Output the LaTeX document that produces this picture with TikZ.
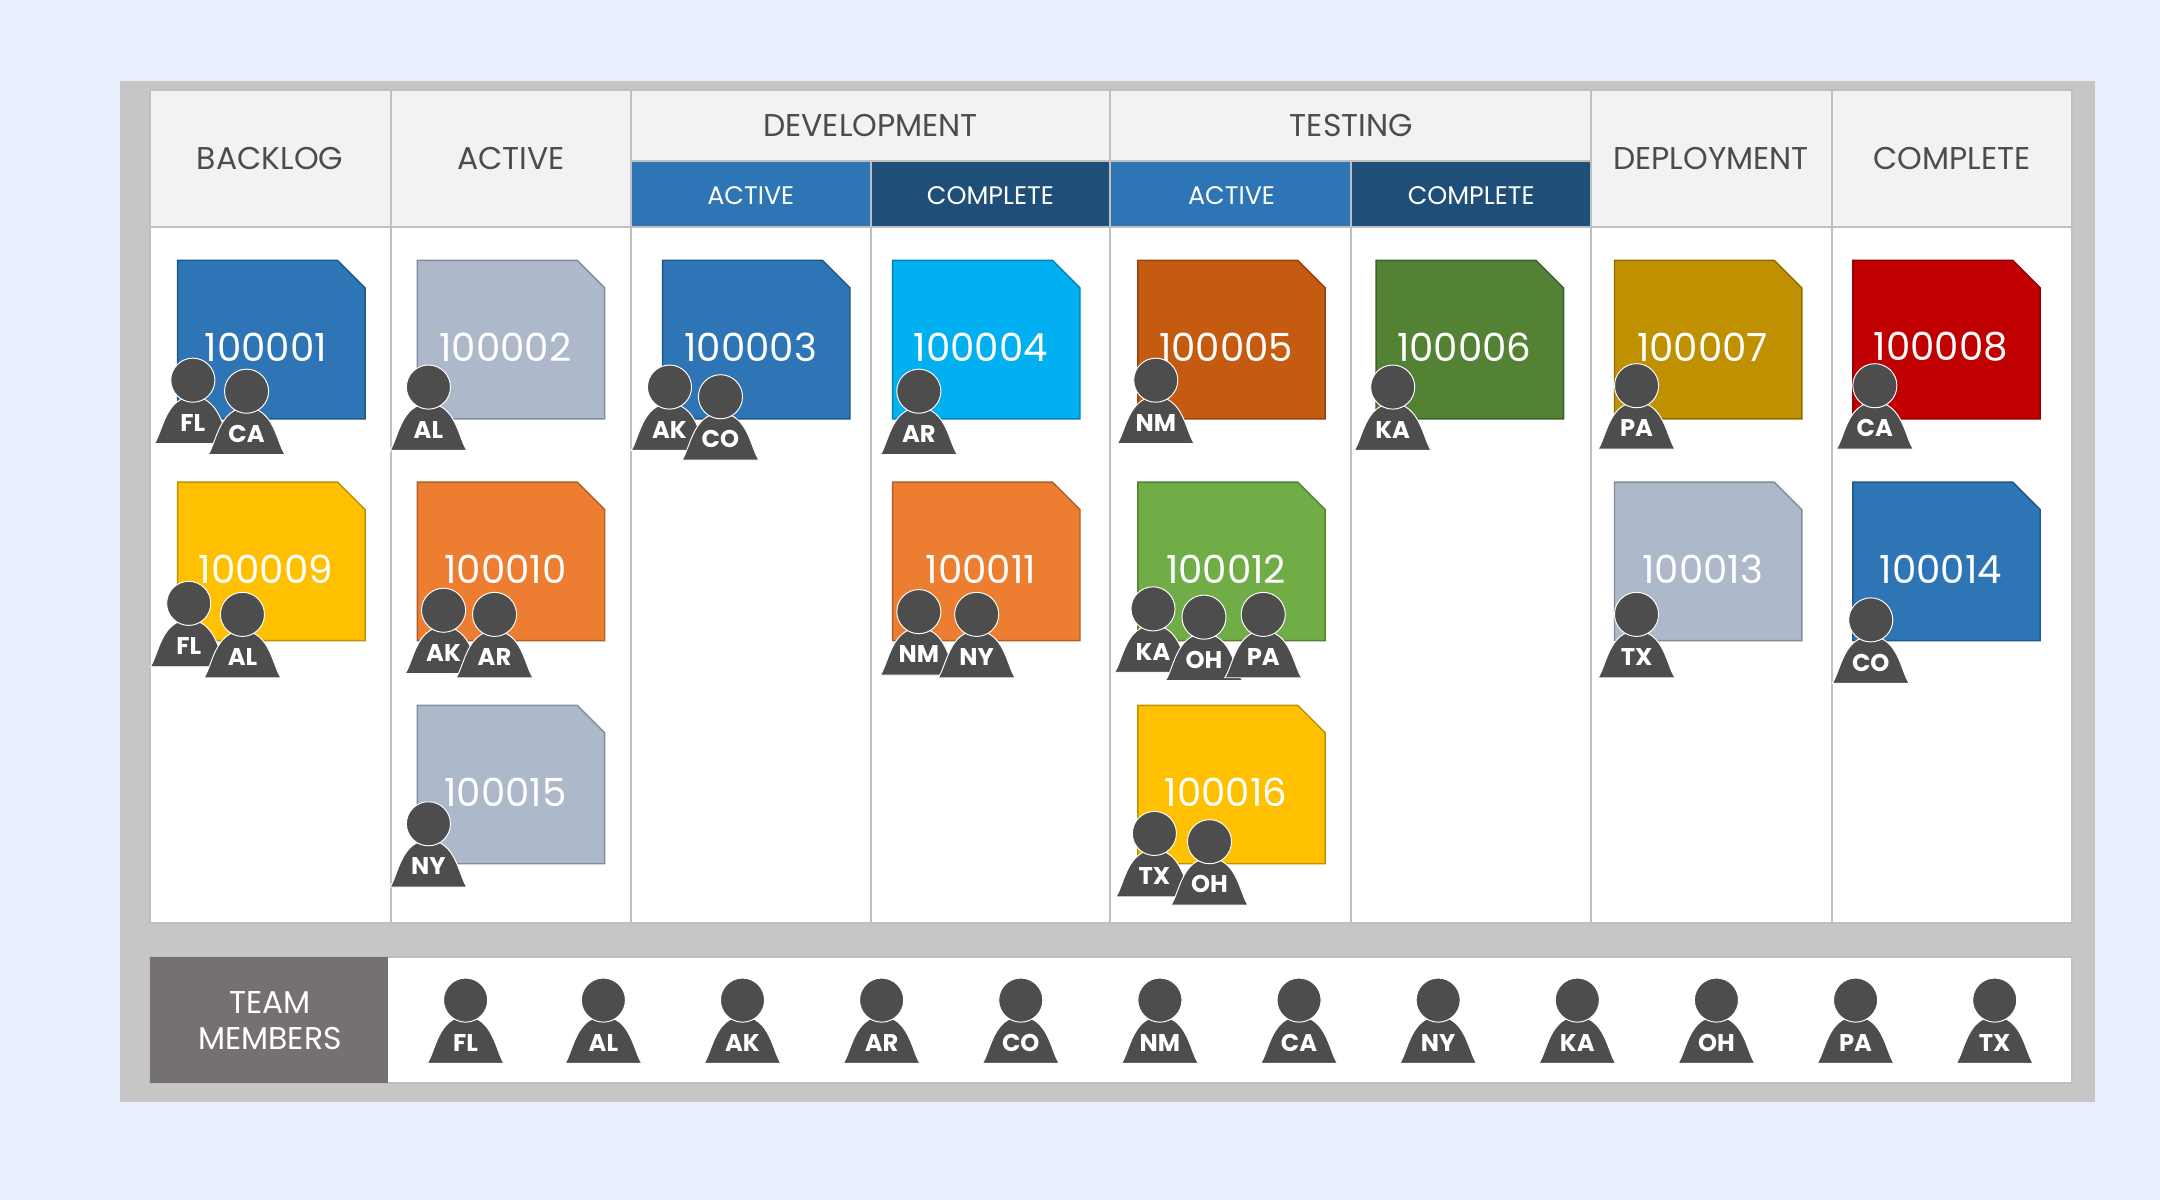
\documentclass[tikz,border=0pt]{standalone}
\usepackage{fontspec}
\setmainfont{Poppins}
\usetikzlibrary{positioning, calc}
\definecolor{pagebg}{HTML}{E8EFFC}
\definecolor{framegray}{HTML}{C6C6C6}
\definecolor{headgray}{HTML}{F2F2F2}
\definecolor{linegray}{HTML}{BFBFBF}
\definecolor{midblue}{HTML}{2E75B6}
\definecolor{darkblue}{HTML}{1F4E79}
\definecolor{teamgray}{HTML}{767171}
\definecolor{persongray}{HTML}{4D4D4D}
\definecolor{cblue}{HTML}{2E75B6}
\definecolor{cslate}{HTML}{ADB9CA}
\definecolor{ccyan}{HTML}{00B0F0}
\definecolor{crust}{HTML}{C55A11}
\definecolor{cgreen}{HTML}{548235}
\definecolor{cgold}{HTML}{BF9000}
\definecolor{cred}{HTML}{C00000}
\definecolor{cyellow}{HTML}{FFC000}
\definecolor{corange}{HTML}{ED7D31}
\definecolor{clime}{HTML}{70AD47}

\tikzset{
  person/.pic={
    \fill[persongray, draw=white, line width=0.4pt]
      (-28,46) .. controls (-22,38) and (-20,12) .. (0,12)
      .. controls (20,12) and (22,38) .. (28,46) -- cycle;
    \fill[persongray, draw=white, line width=0.4pt] (0,0) circle (16);
    \node[font=\bfseries\fontsize{10}{10}\selectfont, text=white] (-label) at (0,31) {\tikzpictext};
  }
}

\begin{document}
\begin{tikzpicture}[x=0.02cm, y=-0.02cm,
    header/.style={font=\fontsize{13}{13}\selectfont, text=black!70},
    subhead/.style={font=\fontsize{10.5}{10.5}\selectfont, text=white},
    cardnum/.style={font=\fontsize{16}{16}\selectfont, text=white}]
\useasboundingbox (0,0) rectangle (1568,871);
\fill[pagebg] (0,0) rectangle (1568,871);
\fill[framegray] (87,59) rectangle (1521,800);

% board
\fill[white] (109,65) rectangle (1504,670);
\fill[headgray] (109,65) rectangle (1504,165);
\fill[midblue] (458,117) rectangle (632,165);
\fill[darkblue] (632,117) rectangle (806,165);
\fill[midblue] (806,117) rectangle (981,165);
\fill[darkblue] (981,117) rectangle (1155,165);
\draw[linegray, line width=0.8pt] (109,65) rectangle (1504,670);
\draw[linegray, line width=0.8pt] (109,165) -- (1504,165);
\draw[linegray, line width=0.8pt] (458,117) -- (1155,117);
\foreach \x in {284,458,806,1155,1330} \draw[linegray, line width=0.8pt] (\x,65) -- (\x,670);
\foreach \x in {632,981} \draw[linegray, line width=0.8pt] (\x,117) -- (\x,670);

\node[header] (hbacklog) at (196,115) {BACKLOG};
\node[header] (hactive) at (371,115) {ACTIVE};
\node[header] (hdev) at (632,91) {DEVELOPMENT};
\node[header] (htest) at (981,91) {TESTING};
\node[header] (hdeploy) at (1242,115) {DEPLOYMENT};
\node[header] (hcomplete) at (1417,115) {COMPLETE};
\node[subhead] (devact) at (545,142) {ACTIVE};
\node[subhead] (devcomp) at (719,142) {COMPLETE};
\node[subhead] (testact) at (894,142) {ACTIVE};
\node[subhead] (testcomp) at (1068,142) {COMPLETE};

% cards
\foreach \cx/\cy/\col/\num in {
    129/189/cblue/100001, 303/189/cslate/100002, 481/189/cblue/100003,
    648/189/ccyan/100004, 826/189/crust/100005, 999/189/cgreen/100006,
    1172/189/cgold/100007, 1345/189/cred/100008,
    129/350/cyellow/100009, 303/350/corange/100010, 648/350/corange/100011,
    826/350/clime/100012, 1172/350/cslate/100013, 1345/350/cblue/100014,
    303/512/cslate/100015, 826/512/cyellow/100016} {
  \fill[\col, draw=\col!75!black, line width=0.6pt]
    (\cx,\cy) -- ++(116,0) -- ++(20,20) -- ++(0,95) -- ++(-136,0) -- cycle;
  \node[cardnum] (c\num) at ($(\cx,\cy)+(64,63)$) {\num};
}

% people on cards
\foreach \px/\py/\who [count=\i] in {
    140/276/FL, 179/284/CA, 311/281/AL, 486/281/AK, 523/288/CO,
    667/284/AR, 839/276/NM, 1011/281/KA, 1188/280/PA, 1361/280/CA,
    137/438/FL, 176/446/AL, 322/443/AK, 359/446/AR, 667/444/NM, 709/446/NY,
    837/442/KA, 874/448/OH, 917/446/PA, 1188/446/TX, 1358/450/CO,
    311/598/NY, 838/605/TX, 878/611/OH} {
  \pic[pic text=\who] (p\i) at (\px,\py) {person};
}

% team members
\fill[white] (109,695) rectangle (1504,786);
\draw[linegray, line width=0.8pt] (109,695) rectangle (1504,786);
\fill[teamgray] (109,695) rectangle (282,786);
\node[align=center, text=white, font=\fontsize{13}{15}\selectfont] (team) at (196,741) {TEAM\\MEMBERS};
\foreach \mx/\who in {338/FL, 438/AL, 539/AK, 640/AR, 741/CO, 842/NM,
    943/CA, 1044/NY, 1145/KA, 1246/OH, 1347/PA, 1448/TX} {
  \pic[pic text=\who] (m\who) at (\mx,726) {person};
}
\end{tikzpicture}
\end{document}
